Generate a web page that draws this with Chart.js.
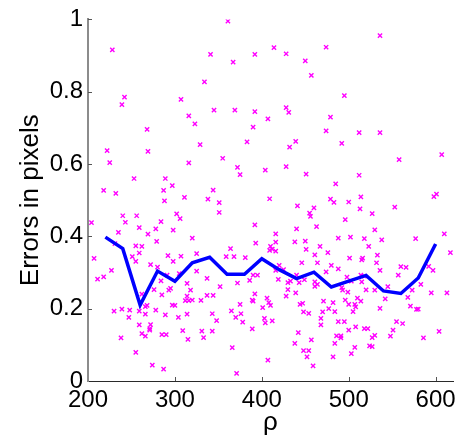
<!DOCTYPE html>
<html>
<head>
<meta charset="utf-8">
<script src="https://cdn.jsdelivr.net/npm/chart.js@4.4.0/dist/chart.umd.min.js"></script>
<style>
  html, body { margin: 0; padding: 0; background: #fff; }
</style>
</head>
<body>
<canvas id="errChart" width="468" height="438"></canvas>
<script>
const rhoTicks = [200, 300, 400, 500, 600];
const errTicks = [0, 0.2, 0.4, 0.6, 0.8, 1];

// mean error per rho (blue line)
const meanRho = [220, 240, 260, 280, 300, 320, 340, 360, 380, 400, 420, 440, 460, 480, 500, 520, 540, 560, 580, 600];
const meanErr = [0.398, 0.366, 0.21, 0.304, 0.276, 0.327, 0.342, 0.295, 0.295, 0.338, 0.308, 0.283, 0.301, 0.26, 0.276, 0.292, 0.249, 0.242, 0.285, 0.379];

// individual samples [rho, error] (magenta crosses)
const samplePoints = [
  [228,0.916],[242,0.785],[239,0.764],[268,0.696],[307,0.779],[316,0.733],[323,0.711],[334,0.827],[341,0.903],[345,0.749],
  [361,0.995],[367,0.882],[369,0.749],[392,0.903],[392,0.745],[390,0.702],[383,0.661],
  [536,0.955],[414,0.922],[474,0.923],[428,0.905],[450,0.885],[457,0.845],[495,0.789],[428,0.756],[431,0.743],[407,0.725],
  [479,0.730],[474,0.692],[512,0.687],[536,0.687],[439,0.663],[492,0.657],
  [432,0.647],[558,0.612],[607,0.626],[404,0.583],[428,0.593],[451,0.572],[512,0.569],[485,0.545],[409,0.504],[441,0.484],
  [460,0.479],[479,0.503],[483,0.494],[500,0.495],[514,0.509],[513,0.476],[527,0.463],[455,0.464],[456,0.455],[496,0.446],
  [553,0.481],[598,0.51],[601,0.517],[392,0.432],[416,0.407],[440,0.421],[463,0.427],[530,0.418],[610,0.407],[393,0.381],
  [416,0.384],[438,0.385],[450,0.387],[488,0.395],[502,0.398],[518,0.394],[538,0.39],[577,0.394],[410,0.372],[412,0.365],
  [409,0.361],[416,0.359],[451,0.364],[467,0.372],[476,0.355],[461,0.349],[523,0.372],[533,0.348],[617,0.355],[501,0.34],
  [516,0.34],[515,0.335],
  [222,0.637],[225,0.604],[269,0.635],[329,0.654],[355,0.616],[316,0.603],[372,0.591],[375,0.571],[253,0.56],[289,0.56],
  [297,0.54],[287,0.527],[218,0.527],[232,0.519],[288,0.498],[311,0.508],[344,0.528],[338,0.503],[351,0.493],[351,0.466],
  [302,0.462],[306,0.449],[240,0.457],[256,0.457],[243,0.439],[284,0.441],[204,0.438],[259,0.424],[278,0.421],[298,0.417],
  [235,0.411],[269,0.406],[320,0.395],[279,0.386],[231,0.38],[255,0.374],[262,0.372],[259,0.354],[207,0.339],[251,0.344],
  [292,0.347],[307,0.345],[325,0.352],[359,0.344],[368,0.344],[364,0.366],[381,0.341],
  [255,0.331],[211,0.282],[218,0.288],[227,0.306],[230,0.193],[239,0.199],[248,0.196],[247,0.176],[238,0.119],[255,0.079],
  [259,0.193],[262,0.24],[268,0.209],[266,0.206],[266,0.185],[259,0.155],[272,0.156],[271,0.145],[271,0.141],[262,0.131],
  [266,0.124],[278,0.196],[274,0.044],[287,0.033],[272,0.322],[280,0.315],[284,0.277],[276,0.253],[291,0.293],[293,0.251],
  [295,0.256],[285,0.238],[297,0.21],[300,0.209],[289,0.183],[285,0.128],[290,0.128],[298,0.331],[305,0.297],[314,0.27],
  [318,0.251],[314,0.235],[312,0.222],[316,0.222],[320,0.224],[304,0.176],[314,0.185],[309,0.139],[315,0.115],[325,0.304],
  [330,0.223],[337,0.284],[337,0.237],[344,0.237],[352,0.261],[331,0.138],[333,0.12],[343,0.186],[348,0.167],[343,0.138],
  [372,0.271],[375,0.212],[365,0.194],[370,0.176],[376,0.186],[378,0.163],[389,0.144],[366,0.092],[371,0.021],[386,0.278],
  [390,0.293],[395,0.293],[392,0.241],[389,0.224],[390,0.221],
  [532,0.327],[446,0.327],[464,0.327],[480,0.32],[488,0.31],[420,0.32],[425,0.308],[416,0.306],[474,0.302],[536,0.306],
  [560,0.316],[566,0.314],[557,0.293],[592,0.317],[597,0.306],[440,0.293],[449,0.28],[419,0.281],[430,0.272],[433,0.276],
  [430,0.253],[443,0.272],[461,0.274],[461,0.262],[464,0.267],[498,0.287],[503,0.276],[515,0.274],[514,0.293],[518,0.29],
  [492,0.258],[493,0.251],[499,0.246],[520,0.252],[530,0.251],[545,0.261],[542,0.227],[573,0.251],[568,0.231],[583,0.267],
  [595,0.244],[613,0.244],[406,0.229],[408,0.217],[410,0.209],[401,0.203],[403,0.173],[404,0.161],[412,0.166],[428,0.235],
  [439,0.244],[444,0.212],[447,0.215],[448,0.191],[454,0.187],[471,0.221],[482,0.217],[477,0.2],[484,0.192],[470,0.191],
  [468,0.173],[468,0.155],[496,0.224],[500,0.212],[507,0.212],[508,0.205],[505,0.192],[510,0.229],[514,0.221],[488,0.164],
  [495,0.164],[500,0.141],[508,0.15],[518,0.145],[522,0.145],[530,0.126],[527,0.12],[524,0.097],[527,0.095],[536,0.201],
  [555,0.164],[562,0.159],[551,0.141],[548,0.124],[571,0.207],[578,0.198],[580,0.199],[586,0.119],[604,0.137],[442,0.134],
  [438,0.104],[457,0.114],[486,0.125],[491,0.125],[491,0.119],[484,0.104],[507,0.093],[503,0.076],[448,0.084],[454,0.084],
  [452,0.067],[407,0.058],[482,0.067],[459,0.042]
];

const FONT = "'Liberation Sans', Arial, Helvetica, sans-serif";

// matlab style ticks pointing into the plot
const innerTicks = {
  id: 'innerTicks',
  afterDraw(chart) {
    const { ctx, chartArea } = chart;
    const xs = chart.scales.x, ys = chart.scales.y;
    ctx.save();
    ctx.lineWidth = 1;
    ctx.strokeStyle = '#555';
    ctx.beginPath();
    xs.ticks.forEach(t => {
      if (t.value === xs.min) return;
      const px = Math.round(xs.getPixelForValue(t.value)) + 0.5;
      ctx.moveTo(px, chartArea.bottom);
      ctx.lineTo(px, chartArea.bottom - 4);
    });
    ys.ticks.forEach(t => {
      if (t.value === ys.min) return;
      const py = Math.round(ys.getPixelForValue(t.value)) + 0.5;
      ctx.moveTo(chartArea.left, py);
      ctx.lineTo(chartArea.left + 4, py);
    });
    ctx.stroke();
    ctx.restore();
  }
};

const ctx = document.getElementById('errChart').getContext('2d');
new Chart(ctx, {
  type: 'scatter',
  data: {
    datasets: [
      {
        type: 'line',
        data: meanRho.map((r, i) => ({ x: r, y: meanErr[i] })),
        borderColor: '#0000ff',
        borderWidth: 3.5,
        pointRadius: 0,
        tension: 0,
        fill: false,
        order: 0
      },
      {
        data: samplePoints.map(p => ({ x: p[0], y: p[1] })),
        pointStyle: 'crossRot',
        pointRadius: 3,
        borderColor: '#ff00ff',
        backgroundColor: '#ff00ff',
        borderWidth: 1.4,
        order: 1
      }
    ]
  },
  options: {
    responsive: false,
    animation: false,
    events: [],
    layout: { padding: { top: 16, right: 15, left: 0, bottom: 0 } },
    plugins: { legend: { display: false }, tooltip: { enabled: false } },
    scales: {
      x: {
        type: 'linear',
        min: 200,
        max: 620,
        afterBuildTicks: s => { s.ticks = rhoTicks.map(v => ({ value: v })); },
        afterFit: s => { s.height = 57; },
        grid: { display: false, drawTicks: false },
        border: { display: true, color: '#2a2a2a', width: 1 },
        ticks: { color: '#000', padding: 5, maxRotation: 0, font: { family: FONT, size: 24 } },
        title: { display: true, text: 'ρ', color: '#000', padding: { top: 0, bottom: 0 }, font: { family: FONT, size: 26 } }
      },
      y: {
        type: 'linear',
        min: 0,
        max: 1,
        afterBuildTicks: s => { s.ticks = errTicks.map(v => ({ value: v })); },
        afterFit: s => { s.width = 88; },
        grid: { display: false, drawTicks: false },
        border: { display: true, color: '#8c8c8c', width: 2 },
        ticks: {
          color: '#000',
          padding: 5,
          font: { family: FONT, size: 24 },
          callback: v => (v === 0 || v === 1) ? String(v) : v.toFixed(1)
        },
        title: { display: true, text: 'Errors in pixels', color: '#000', padding: { top: 15, bottom: 0 }, font: { family: FONT, size: 26 } }
      }
    }
  },
  plugins: [innerTicks]
});
</script>
</body>
</html>
